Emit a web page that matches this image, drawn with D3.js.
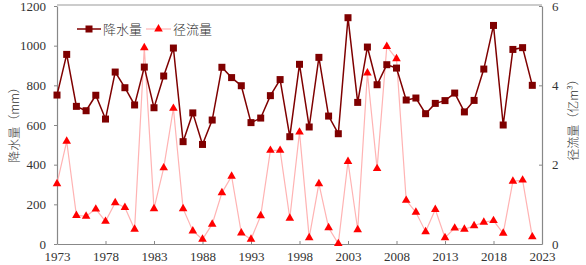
<!DOCTYPE html>
<html>
<head>
<meta charset="utf-8">
<script src="https://cdn.jsdelivr.net/npm/d3@7"></script>
<style>
  body { margin: 0; background: #fff; }
  svg text { font-family: "Liberation Serif", "Times New Roman", serif; fill: #333; }
  .cn { font-family: "Noto Sans CJK SC", sans-serif; font-weight: 300; }
</style>
</head>
<body>
<div id="chart"></div>
<script>
const years = d3.range(1973, 2023);
// 降水量 (mm)
const rain = [751, 956, 694, 672, 750, 630, 867, 788, 701, 892,
              687, 847, 988, 516, 661, 502, 625, 891, 839, 798,
              612, 635, 748, 829, 541, 906, 590, 941, 645, 556,
              1141, 714, 993, 803, 904, 887, 726, 736, 657, 709,
              723, 761, 666, 724, 882, 1102, 600, 981, 990, 800];
// 径流量 (亿m3)
const runoff = [1.52, 2.59, 0.72, 0.70, 0.88, 0.57, 1.04, 0.92, 0.37, 4.95,
                0.89, 1.92, 3.42, 0.89, 0.33, 0.12, 0.50, 1.29, 1.71, 0.28,
                0.12, 0.71, 2.36, 2.36, 0.65, 2.82, 0.16, 1.52, 0.41, 0.01,
                2.08, 0.36, 4.31, 1.90, 4.98, 4.67, 1.10, 0.80, 0.31, 0.87,
                0.16, 0.40, 0.37, 0.46, 0.55, 0.59, 0.27, 1.58, 1.61, 0.18];
const xTicks = [1973, 1978, 1983, 1988, 1993, 1998, 2003, 2008, 2013, 2018, 2023];
const leftTicks = [0, 200, 400, 600, 800, 1000, 1200];
const rightTicks = [0, 2, 4, 6];

const width = 586, height = 265;
const mLeft = 57, mRight = 542, mTop = 6, mBottom = 244;

const svg = d3.select('#chart').append('svg')
  .attr('width', width)
  .attr('height', height);

const x = d3.scaleLinear().domain([1973, 2023]).range([mLeft, mRight]);
const yL = d3.scaleLinear().domain([0, 1200]).range([mBottom, mTop]);
const yR = d3.scaleLinear().domain([0, 6]).range([mBottom, mTop]);

// frame top line
svg.append('line')
  .attr('x1', mLeft).attr('x2', mRight)
  .attr('y1', mTop - 1).attr('y2', mTop - 1)
  .attr('stroke', '#999').attr('stroke-width', 1.2);

const styleAxis = g => {
  g.select('.domain').attr('stroke', '#888').attr('stroke-width', 1.2);
  g.selectAll('.tick line').attr('stroke', '#888');
  g.selectAll('.tick text').style('font-size', '13px').attr('fill', '#333');
};

svg.append('g')
  .attr('transform', `translate(0,${mBottom})`)
  .call(d3.axisBottom(x).tickValues(xTicks).tickFormat(d3.format('d')).tickSize(-3).tickSizeOuter(0).tickPadding(8))
  .call(styleAxis);

svg.append('g')
  .attr('transform', `translate(${mLeft},0)`)
  .call(d3.axisLeft(yL).tickValues(leftTicks).tickFormat(d3.format('d')).tickSize(3).tickSizeOuter(0).tickPadding(8))
  .call(styleAxis);

svg.append('g')
  .attr('transform', `translate(${mRight},0)`)
  .call(d3.axisRight(yR).tickValues(rightTicks).tickFormat(d3.format('d')).tickSize(-3).tickSizeOuter(0).tickPadding(10))
  .call(styleAxis);

const rainColor = '#7f0000';
const runColor = '#ff0000';
const runLine = '#ffb3b3';

// runoff series
svg.append('path')
  .attr('fill', 'none')
  .attr('stroke', runLine)
  .attr('stroke-width', 1.2)
  .attr('d', d3.line().x((d, i) => x(years[i])).y(d => yR(d))(runoff));

const tri = d3.symbol().type(d3.symbolTriangle).size(32);
svg.append('g').selectAll('path')
  .data(runoff)
  .join('path')
  .attr('transform', (d, i) => `translate(${x(years[i])},${yR(d)})`)
  .attr('d', tri)
  .attr('fill', runColor);

// rainfall series
svg.append('path')
  .attr('fill', 'none')
  .attr('stroke', rainColor)
  .attr('stroke-width', 1.5)
  .attr('d', d3.line().x((d, i) => x(years[i])).y(d => yL(d))(rain));

svg.append('g').selectAll('rect')
  .data(rain)
  .join('rect')
  .attr('x', (d, i) => x(years[i]) - 3.5)
  .attr('y', d => yL(d) - 3.5)
  .attr('width', 7).attr('height', 7)
  .attr('fill', rainColor);

// legend
const lg = svg.append('g').attr('transform', 'translate(77,29)');
lg.append('line').attr('x1', 0).attr('x2', 24).attr('stroke', rainColor).attr('stroke-width', 1.5);
lg.append('rect').attr('x', 8.5).attr('y', -3.5).attr('width', 7).attr('height', 7).attr('fill', rainColor);
lg.append('text').attr('class', 'cn').attr('x', 26).attr('y', 5).style('font-size', '13px').text('降水量');
lg.append('line').attr('x1', 69).attr('x2', 94).attr('stroke', runLine).attr('stroke-width', 1.2);
lg.append('path').attr('transform', 'translate(81.5,0)').attr('d', tri).attr('fill', runColor);
lg.append('text').attr('class', 'cn').attr('x', 96).attr('y', 5).style('font-size', '13px').text('径流量');

// axis titles
svg.append('text')
  .attr('class', 'cn')
  .attr('transform', 'translate(19,122) rotate(-90)')
  .attr('text-anchor', 'middle')
  .style('font-size', '12px')
  .text('降水量（mm）');

svg.append('text')
  .attr('class', 'cn')
  .attr('transform', 'translate(578,117) rotate(-90)')
  .attr('text-anchor', 'middle')
  .style('font-size', '12px')
  .text('径流量（亿m³）');
</script>
</body>
</html>
